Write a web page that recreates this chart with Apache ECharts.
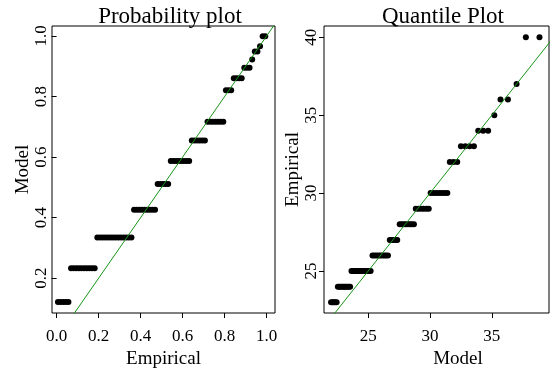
<!DOCTYPE html>
<html><head><meta charset="utf-8">
<script src="https://cdn.jsdelivr.net/npm/echarts@6/dist/echarts.min.js"></script>
<style>html,body{margin:0;padding:0;background:#fff}#c{width:550px;height:368px}</style>
</head><body><div id="c"></div>
<script>
// Sorted sample (empirical values)
const sample = [
  23,23,23,23,23,
  24,24,24,24,24,24,24,24,24,24,
  25,25,25,25,25,25,25,25,25,25,25,25,25,25,
  26,26,26,26,26,26,26,26,26,
  27,27,27,27,27,
  28,28,28,28,28,28,28,28,
  29,29,29,29,29,29,
  30,30,30,30,30,30,30,
  32,32,32,
  33,33,33,33,
  34,34,34,
  35,36,36,37,40,40
];
// Fitted model CDF at each distinct value
const distinctValues = [23,24,25,26,27,28,29,30,32,33,34,35,36,37,40];
const modelCdf = [0.121,0.233,0.334,0.426,0.511,0.587,0.655,0.717,0.821,0.86,0.895,0.922,0.949,0.966,0.999];
const modelQuantiles = [
  22.0,22.12,22.23,22.34,22.45,
  22.55,22.66,22.77,22.88,22.99,23.10,23.21,23.32,23.43,23.54,
  23.65,23.77,23.89,24.01,24.13,24.25,24.37,24.49,24.61,24.73,24.85,24.97,25.09,25.20,
  25.35,25.50,25.66,25.82,25.97,26.13,26.29,26.44,26.60,
  26.75,26.90,27.05,27.20,27.35,
  27.55,27.71,27.88,28.04,28.20,28.37,28.53,28.70,
  28.85,29.06,29.27,29.48,29.69,29.90,
  30.05,30.28,30.50,30.73,30.95,31.18,31.40,
  31.60,31.90,32.20,
  32.50,32.85,33.20,33.55,
  33.90,34.30,34.70,
  35.20,
  35.70,36.30,
  37.00,
  37.75,38.85
];
const ppTicks = [0.0,0.2,0.4,0.6,0.8,1.0];
const ppYTicks = [0.2,0.4,0.6,0.8,1.0];
const qqXTicks = [25,30,35];
const qqYTicks = [25,30,35,40];

const n = sample.length;
const ppData = sample.map((v,i)=>[(i+0.5)/n, modelCdf[distinctValues.indexOf(v)]]);
const qqData = sample.map((v,i)=>[modelQuantiles[i], v]);

const FONT = 'Liberation Serif';
function xAxisCfg(idx,min,max,ticks,name,pad){
  return {gridIndex:idx,type:'value',min:min,max:max,name:name,nameLocation:'middle',nameGap:35,
    nameTextStyle:{fontFamily:FONT,fontSize:19,color:'#000',padding:pad||0},
    axisLine:{show:false},splitLine:{show:false},
    axisTick:{show:true,length:5,customValues:ticks,lineStyle:{color:'#000'}},
    axisLabel:{show:true,customValues:ticks,fontFamily:FONT,fontSize:17,color:'#000',margin:15,
      formatter:v=>idx===0?v.toFixed(1):String(v)}};
}
function yAxisCfg(idx,min,max,ticks,name,gap,margin){
  return {gridIndex:idx,type:'value',min:min,max:max,name:name,nameLocation:'middle',nameGap:gap,
    nameTextStyle:{fontFamily:FONT,fontSize:19,color:'#000'},
    axisLine:{show:false},splitLine:{show:false},
    axisTick:{show:true,length:5,customValues:ticks,lineStyle:{color:'#000'}},
    axisLabel:{show:true,customValues:ticks,rotate:90,fontFamily:FONT,fontSize:17,color:'#000',margin:margin,
      formatter:v=>idx===0?v.toFixed(1):String(v)}};
}
const chart = echarts.init(document.getElementById('c'),null,{renderer:'canvas'});
chart.setOption({
  animation:false,
  backgroundColor:'#fff',
  title:[
    {text:'Probability plot',left:165,top:0,textAlign:'center',textStyle:{fontFamily:FONT,fontSize:23,fontWeight:'normal',color:'#000'}},
    {text:'Quantile Plot',left:438,top:0,textAlign:'center',textStyle:{fontFamily:FONT,fontSize:23,fontWeight:'normal',color:'#000'}}
  ],
  grid:[
    {left:52,top:26,width:223,height:287,show:true,borderColor:'#000',borderWidth:1,backgroundColor:'transparent',containLabel:false,outerBoundsMode:'none'},
    {left:324,top:26,width:225,height:287,show:true,borderColor:'#000',borderWidth:1,backgroundColor:'transparent',containLabel:false,outerBoundsMode:'none'}
  ],
  xAxis:[
    xAxisCfg(0,-0.022,1.04,ppTicks,'Empirical'),
    xAxisCfg(1,21.43,39.62,qqXTicks,'Model',[0,0,0,43])
  ],
  yAxis:[
    yAxisCfg(0,0.085,1.033,ppYTicks,'Model',14,2),
    yAxisCfg(1,22.31,40.72,qqYTicks,'Empirical',17,4)
  ],
  series:[
    {type:'scatter',xAxisIndex:0,yAxisIndex:0,data:ppData,symbol:'circle',symbolSize:6,itemStyle:{color:'#000',opacity:1},silent:true},
    {type:'line',xAxisIndex:0,yAxisIndex:0,data:[[-0.1,-0.1],[1.2,1.2]],showSymbol:false,clip:true,lineStyle:{color:'#179417',width:1},silent:true},
    {type:'scatter',xAxisIndex:1,yAxisIndex:1,data:qqData,symbol:'circle',symbolSize:6,itemStyle:{color:'#000',opacity:1},silent:true},
    {type:'line',xAxisIndex:1,yAxisIndex:1,data:[[15,15],[45,45]],showSymbol:false,clip:true,lineStyle:{color:'#179417',width:1},silent:true}
  ]
});
</script></body></html>
